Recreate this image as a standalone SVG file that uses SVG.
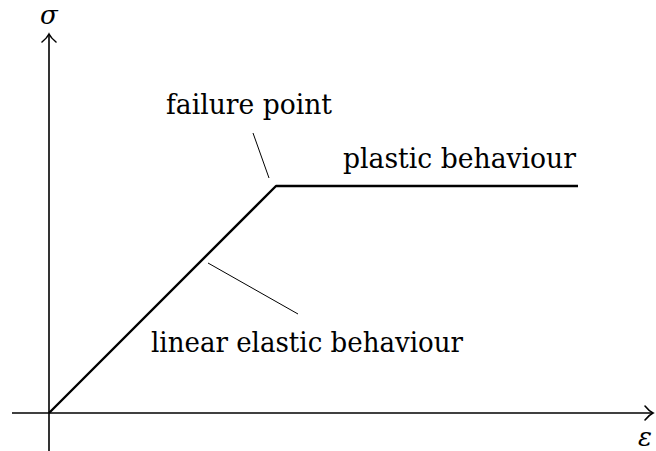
<svg xmlns="http://www.w3.org/2000/svg" width="656" height="451" viewBox="0 0 656 451">
<style>
.t{font-family:"DejaVu Serif",serif;font-size:28px;fill:#000}
.m{font-family:"DejaVu Serif",serif;font-style:italic;font-size:26px;fill:#000}
.ax{stroke:#000;stroke-width:1.6;fill:none}
.cv{stroke:#000;stroke-width:2.4;fill:none;stroke-linejoin:round}
.ld{stroke:#000;stroke-width:1;fill:none}
.ah{stroke:#000;stroke-width:1.6;fill:none;stroke-linecap:round}
</style>
<rect width="656" height="451" fill="#fff"/>
<g id="axes">
<line class="ax" x1="12" y1="413" x2="652" y2="413"/>
<path class="ah" d="M645,406 Q649,411 653,413 Q649,415 645,420"/>
<line class="ax" x1="49" y1="451" x2="49" y2="35"/>
<path class="ah" d="M42,42 Q47,38 49,34 Q51,38 56,42"/>
</g>
<g id="curve">
<polyline class="cv" points="49,413 276,186 578,186"/>
</g>
<g id="connectors">
<line class="ld" x1="253" y1="133" x2="269" y2="178"/>
<line class="ld" x1="208" y1="263" x2="298" y2="314"/>
</g>
<g id="labels">
<text class="m" x="40" y="24">σ</text>
<text class="m" x="638" y="446">ε</text>
<text class="t" x="166" y="114" textLength="166" lengthAdjust="spacingAndGlyphs">failure point</text>
<text class="t" x="343" y="168" textLength="233" lengthAdjust="spacingAndGlyphs">plastic behaviour</text>
<text class="t" x="151" y="352" textLength="312" lengthAdjust="spacingAndGlyphs">linear elastic behaviour</text>
</g>
</svg>
